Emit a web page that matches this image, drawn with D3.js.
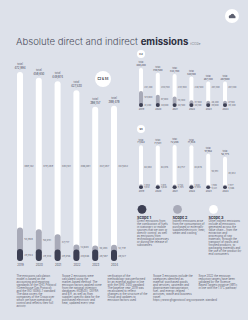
<!DOCTYPE html>
<html><head><meta charset="utf-8">
<script src="https://cdn.jsdelivr.net/npm/d3@7"></script>
<style>
html,body{margin:0;padding:0;background:#dde1ea;}
svg{display:block;font-family:Inter,"Noto Sans",sans-serif;}
</style></head><body>
<svg id="c" width="248" height="320"></svg>
<script>
// ---- data ----
const years = ["2019","2020","2021","2022","2023","2024"];
// C2 & S4 (combined)
const allScope1 = [29944, 29310, 29056, 28846, 28587, 28127];
const allScope2 = [53908, 50051, 37717, 12603, 10283, 12719];
const allScope3 = [389142, 379289, 383101, 386081, 347287, 347632];
// C2
const c2Scope1 = [41200, 40800, 40500, 40100, 39800, 39400];
const c2Scope2 = [125800, 87000, 70300, 31500, 26200, 27100];
const c2Scope3 = [241200, 230700, 233900, 248500, 201300, 201300];
// S4
const s4Scope1 = [5812, 5640, 5705, 5590, 5421, 5366];
const s4Scope2 = [1930, 1815, 1744, 1682, 1590, 1577];
const s4Scope3 = [64080, 64076, 64757, 64676, 50951, 45832];

const scopeNames = ["Scope 1","Scope 2","Scope 3"];
const scopeTexts = [
 "Direct emissions from the combustion of fuels in stationary or mobile sources that we own or directly control, as well as emissions from technological processes or during the release of substances.",
 "Indirect emissions arise from the consumption of purchased or externally supplied electricity, heat, steam and cooling.",
 "Other indirect emissions include all emissions generated across the value chain – from the extraction and processing of raw materials, through the transport of inputs and finished products, to packaging materials and the use of the product by end consumers."
];
const notes = [
 "The emissions calculation model is based on the accounting and reporting standards of the GHG Protocol (Greenhouse Gas Protocol) and the ISO 14064-1 standard. The data covers the companies of the Group over which we have operational control and reflects their full activity.",
 "Scope 2 emissions were calculated using the market-based method. The emission factors applied come from the national inventory databases (KOBiZE), DEFRA and IEA, as well as from supplier-specific data for the purchased electricity and heat, updated every year.",
 "verification of the methodology was performed by an external auditor in line with the ISAE 3410 standard. The baseline year 2019 was recalculated to reflect changes in the structure of the Group and updates to emission factors used.",
 "Scope 3 emissions include the categories identified as material: purchased goods and services, upstream and downstream transportation, fuel- and energy-related activities, waste and business travel. https://www.ghgprotocol.org/corporate-standard",
 "Since 2022 the emission reduction targets have been validated by the Science Based Targets initiative (SBTi) in line with the 1.5°C pathway."
];

const COL = {white:"#ffffff", gray:"#a8aab8", dark:"#3c3f53", text:"#5f6270", head:"#2f3242"};
const fmt = d3.format(",");
const svg = d3.select("#c");

// title
const t = svg.append("text").attr("x",16).attr("y",44.5).attr("font-size",9.6).attr("fill","#4d5060");
t.append("tspan").attr("font-weight",300).text("Absolute direct and indirect ");
t.append("tspan").attr("font-weight",700).attr("fill","#2c2f3e").text("emissions");
t.append("tspan").attr("font-size",3.4).attr("fill","#777a88").attr("dx",2).text("tCO2e");

// top-right icon
const ic = svg.append("g").attr("transform","translate(232,16)");
ic.append("circle").attr("r",7).attr("fill","#fff");
[[-1.6,0.6,1.5],[0.4,-0.4,1.9],[2.1,0.7,1.3]].forEach(d=>ic.append("circle").attr("cx",d[0]).attr("cy",d[1]).attr("r",d[2]).attr("fill","#5d6070"));
ic.append("rect").attr("x",-3.1).attr("y",0.6).attr("width",6.5).attr("height",1.6).attr("fill","#5d6070");

function badge(cx, cy, r, label, fs){
  svg.append("circle").attr("cx",cx).attr("cy",cy).attr("r",r).attr("fill","#fff");
  svg.append("text").attr("x",cx).attr("y",cy).attr("dy","0.35em").attr("text-anchor","middle")
    .attr("font-size",fs).attr("font-weight",700).attr("fill",COL.head).text(label);
}

function drawChart(cfg){
  const g = svg.append("g");
  const totals = years.map((_,i)=>cfg.s1[i]+cfg.s2[i]+cfg.s3[i]);
  const x = d3.scalePoint().domain(years).range([cfg.x0, cfg.x1]);
  const y = d3.scaleLinear().domain([0, d3.max(totals)]).range([cfg.base, cfg.top]);
  const w = cfg.bw, fs = cfg.fs;
  years.forEach((yr,i)=>{
    const cx = x(yr);
    const s12 = cfg.s1[i]+cfg.s2[i];
    [[totals[i],COL.white],[s12,COL.gray],[cfg.s1[i],COL.dark]].forEach(([v,c])=>{
      g.append("rect").attr("x",cx-w/2).attr("y",y(v)).attr("width",w)
       .attr("height",cfg.base-y(v)).attr("rx",w/2).attr("fill",c);
    });
    // total labels
    g.append("text").attr("x",cx).attr("y",y(totals[i])-cfg.tOff[0]).attr("text-anchor","middle")
     .attr("font-size",fs).attr("fill",COL.text).text("total");
    g.append("text").attr("x",cx).attr("y",y(totals[i])-cfg.tOff[1]).attr("text-anchor","middle")
     .attr("font-size",fs).attr("fill","#3f4252").text(fmt(totals[i]));
    // segment labels
    const lx = cx + w/2 + 1.2;
    const y1 = (y(cfg.s1[i])+cfg.base)/2 + fs*0.5;
    let y2 = (y(s12)+y(cfg.s1[i]))/2 + fs*0.5;
    y2 = Math.min(y2, y1 - fs*1.05);
    const y3 = cfg.midFixed ? y(d3.max(totals)/2) + fs*0.35 : y(totals[i]/2) + fs*0.35;
    [[y3,cfg.s3[i]],[y2,cfg.s2[i]],[y1,cfg.s1[i]]].forEach(([yy,v])=>{
      g.append("text").attr("x",lx).attr("y",yy).attr("font-size",fs*0.92).attr("fill",COL.text).text(fmt(v));
    });
  });
  // year axis
  const ax = g.append("g").attr("transform",`translate(0,${cfg.base+cfg.yearOff})`)
    .call(d3.axisBottom(x).tickSize(0).tickPadding(0));
  ax.select(".domain").remove();
  ax.selectAll("text").attr("font-size",fs).attr("fill","#4a4d5c").attr("font-family","Inter,'Noto Sans',sans-serif");
}

drawChart({s1:allScope1,s2:allScope2,s3:allScope3,x0:20,x1:114,base:261,top:72,bw:6,fs:2.8,tOff:[6.8,3],midFixed:true,yearOff:2.6});
drawChart({s1:c2Scope1,s2:c2Scope2,s3:c2Scope3,x0:141,x1:225,base:107,top:68,bw:4,fs:2.4,tOff:[4.6,1.8],midFixed:true,yearOff:1.2});
drawChart({s1:s4Scope1,s2:s4Scope2,s3:s4Scope3,x0:141,x1:225,base:189,top:145,bw:4,fs:2.4,tOff:[4.6,1.8],midFixed:false,yearOff:1.6});

badge(103,79,8,"C2 & S4",2.9);
badge(141,54,4,"C2",2.4);
badge(141,129,4,"S4",2.4);

function wrap(textSel, str, width, lh){
  const words = str.split(/\s+/);
  let line = [], tsp = textSel.append("tspan").attr("x",textSel.attr("x")).attr("dy",0);
  words.forEach(wd=>{
    line.push(wd);
    tsp.text(line.join(" "));
    if (tsp.node().getComputedTextLength() > width && line.length>1){
      line.pop(); tsp.text(line.join(" "));
      line=[wd];
      tsp = textSel.append("tspan").attr("x",textSel.attr("x")).attr("dy",lh).text(wd);
    }
  });
}

// scope legend
const legX = [137,172.5,208.5];
const legFill = [COL.dark, COL.gray, COL.white];
scopeNames.forEach((n,i)=>{
  svg.append("circle").attr("cx",legX[i]+5).attr("cy",209.3).attr("r",4.4).attr("fill",legFill[i]);
  svg.append("text").attr("x",legX[i]).attr("y",218.6).attr("font-size",3.8).attr("font-weight",700).attr("fill",COL.head).text(n);
  const tx = svg.append("text").attr("x",legX[i]).attr("y",221.8).attr("font-size",2.75).attr("fill",COL.text);
  wrap(tx, scopeTexts[i], 33, 3.05);
});

// notes
const noteX = [16.5,62,107.5,153,198.5];
notes.forEach((s,i)=>{
  const tx = svg.append("text").attr("x",noteX[i]).attr("y",276.5).attr("font-size",2.75).attr("fill",COL.text);
  wrap(tx, s, 40, 3.05);
});
</script>
</body></html>
